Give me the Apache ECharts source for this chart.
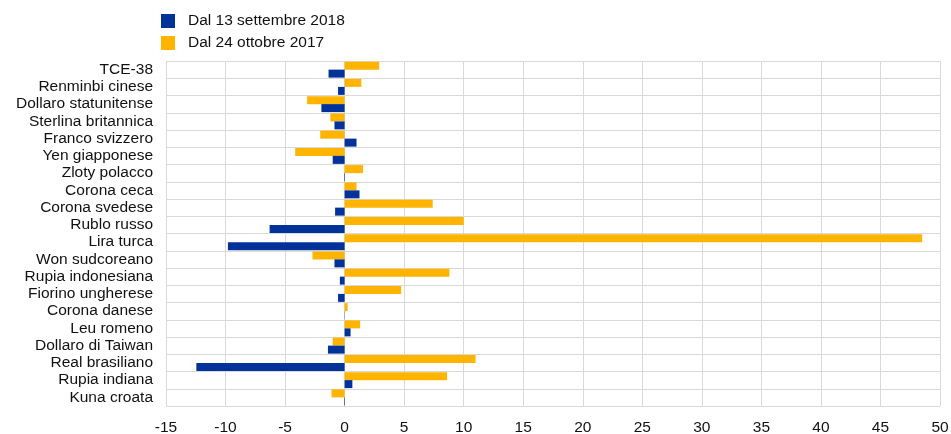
<!DOCTYPE html>
<html>
<head>
<meta charset="utf-8">
<script src="https://cdn.jsdelivr.net/npm/echarts@6/dist/echarts.min.js"></script>
<style>
  html, body { margin: 0; padding: 0; background: #fff; }
  #chart { width: 951px; height: 434px; }
</style>
</head>
<body>
<div id="chart"></div>
<script>
const categories = [
  'TCE-38', 'Renminbi cinese', 'Dollaro statunitense', 'Sterlina britannica',
  'Franco svizzero', 'Yen giapponese', 'Zloty polacco', 'Corona ceca',
  'Corona svedese', 'Rublo russo', 'Lira turca', 'Won sudcoreano',
  'Rupia indonesiana', 'Fiorino ungherese', 'Corona danese', 'Leu romeno',
  'Dollaro di Taiwan', 'Real brasiliano', 'Rupia indiana', 'Kuna croata'
]
const sinceSep2018 = [
  -1.35, -0.55, -1.95, -0.85, 1.0, -1.0, -0.05, 1.25, -0.8, -6.3,
  -9.8, -0.85, -0.4, -0.55, -0.02, 0.5, -1.4, -12.45, 0.65, -0.05
]
const sinceOct2017 = [
  2.9, 1.4, -3.15, -1.2, -2.05, -4.15, 1.55, 1.0, 7.4, 10.0,
  48.5, -2.7, 8.8, 4.75, 0.25, 1.3, -1.0, 11.0, 8.6, -1.1
]
const seriesNames = ['Dal 13 settembre 2018', 'Dal 24 ottobre 2017']

const chart = echarts.init(document.getElementById('chart'))
const font = 'Liberation Sans, Arial, sans-serif'
const textColor = '#111'

chart.setOption({
  animation: false,
  textStyle: { fontFamily: font },
  legend: {
    data: seriesNames,
    orient: 'vertical',
    left: 156,
    top: 8,
    icon: 'rect',
    itemWidth: 14,
    itemHeight: 14,
    itemGap: 6,
    textStyle: { fontSize: 15.5, color: textColor, fontFamily: font, padding: [0, 0, 0, 8] }
  },
  grid: { left: 166, right: 11, top: 61, bottom: 28, containLabel: false, outerBoundsMode: 'none' },
  xAxis: {
    type: 'value',
    min: -15,
    max: 50,
    interval: 5,
    axisLine: { show: false },
    axisTick: { show: false },
    axisLabel: { fontSize: 15.5, color: textColor, margin: 14, fontFamily: font },
    splitLine: { show: true, lineStyle: { color: '#d9d9d9', width: 1 } }
  },
  yAxis: {
    type: 'category',
    data: categories,
    inverse: true,
    axisLine: { show: true, lineStyle: { color: '#d9d9d9' } },
    axisTick: { show: false },
    axisLabel: { interval: 0, fontSize: 15.5, color: textColor, margin: 13, fontFamily: font },
    splitLine: { show: true, interval: 0, lineStyle: { color: '#d9d9d9', width: 1 } }
  },
  series: [
    {
      name: seriesNames[1],
      type: 'bar',
      data: sinceOct2017,
      barWidth: 8,
      barGap: '0%',
      itemStyle: { color: '#ffb400' }
    },
    {
      name: seriesNames[0],
      type: 'bar',
      data: sinceSep2018,
      barWidth: 8,
      barGap: '0%',
      itemStyle: { color: '#003299' }
    }
  ]
})
</script>
</body>
</html>
